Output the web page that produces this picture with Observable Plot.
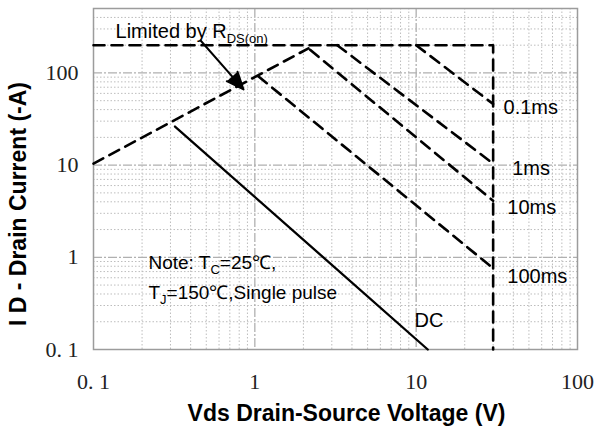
<!DOCTYPE html>
<html><head><meta charset="utf-8">
<script src="https://cdn.jsdelivr.net/npm/d3@7"></script>
<script src="https://cdn.jsdelivr.net/npm/@observablehq/plot@0.6"></script>
<style>
html,body{margin:0;padding:0;background:#fff;}
#chart svg{display:block;}
g[aria-label="x-axis tick label"], g[aria-label="y-axis tick label"]{font-family:"Liberation Serif","Times New Roman",serif;font-size:22px;fill:#222;}
</style></head><body><div id="chart"></div>
<script>
// ---- axis ticks ----
const xTicks = [0.1, 1, 10, 100];
const xTickLabels = ["0. 1", "1", "10", "100"];
const yTicks = [0.1, 1, 10, 100];
const yTickLabels = ["0. 1", "1", "10", "100"];

// ---- SOA boundary series (Vds [V], Id [A]) ----
const rdsV = [0.1, 2.15],  rdsI = [10.4, 185];
const boundV = [0.1, 30, 30], boundI = [200, 200, 0.1];
const ms01V = [10, 30],    ms01I = [200, 46];
const ms1V = [3.24, 30],   ms1I = [200, 10.4];
const ms10V = [2.2, 30],   ms10I = [178, 4.1];
const ms100V = [1.05, 30], ms100I = [92, 0.76];
const dcV = [0.32, 11.8],  dcI = [26.2, 0.1];

// ---- curve labels ----
const curveLabels = ["0.1ms", "1ms", "10ms", "100ms", "DC"];
const curveLabelV = [34.8, 39.4, 36.7, 36.7, 9.77];
const curveLabelI = [42.2, 9.2, 3.5, 0.62, 0.207];

// ---- notes ----
const notes = ["Limited by R_{DS(on)}", "Note: T_{C}=25℃,", "T_{J}=150℃,Single pulse"];
const noteV = [0.137, 0.219, 0.219];
const noteI = [282, 0.879, 0.415];

// ---- arrow ----
const arrowV = [0.461, 0.851];
const arrowI = [225, 66.2];

// ---- build tables ----
function seg(name, V, I) { return V.map((v, k) => ({s: name, v, i: I[k]})); }
const dashed = [
  ...seg("RDS(on)", rdsV, rdsI),
  ...seg("Limit", boundV, boundI),
  ...seg("0.1ms", ms01V, ms01I),
  ...seg("1ms", ms1V, ms1I),
  ...seg("10ms", ms10V, ms10I),
  ...seg("100ms", ms100V, ms100I)
];
const solid = seg("DC", dcV, dcI);
const curveTable = curveLabels.map((t, k) => ({t, v: curveLabelV[k], i: curveLabelI[k]}));
const noteTable = notes.map((t, k) => ({t, v: noteV[k], i: noteI[k], fs: k === 0 ? 20 : 19}));
const arrowTable = [{v1: arrowV[0], i1: arrowI[0], v2: arrowV[1], i2: arrowI[1]}];

// grid values
const xMajor = [1, 10];
const yMajor = [1, 10, 100];
const xMinor = [], yMinor = [];
for (const d of [0.1, 1, 10]) for (let m = 2; m <= 9; m++) xMinor.push(+(d * m).toPrecision(3));
for (const d of [0.1, 1, 10, 100]) for (let m = 2; m <= 9; m++) { const val = +(d * m).toPrecision(3); if (val <= 500) yMinor.push(val); }

const sans = "'Liberation Sans', Arial, Helvetica, sans-serif";

const plot = Plot.plot({
  width: 595,
  height: 434,
  marginLeft: 93,
  marginRight: 18,
  marginTop: 8,
  marginBottom: 85,
  style: {fontFamily: sans, background: "white", color: "black"},
  x: {type: "log", domain: [0.1, 100], label: null},
  y: {type: "log", domain: [0.1, 500], label: null},
  marks: [
    Plot.ruleX(xMinor, {stroke: "#bdbdbd", strokeWidth: 1, strokeDasharray: "1.5,2"}),
    Plot.ruleY(yMinor, {stroke: "#bdbdbd", strokeWidth: 1, strokeDasharray: "1.5,2"}),
    Plot.ruleX(xMajor, {stroke: "#b0b0b0", strokeWidth: 1.3, strokeDasharray: "9,2,2,2"}),
    Plot.ruleY(yMajor, {stroke: "#b0b0b0", strokeWidth: 1.3, strokeDasharray: "9,2,2,2"}),
    Plot.frame({stroke: "#9c9c9c", strokeWidth: 1.5}),
    Plot.line(dashed, {x: "v", y: "i", z: "s", stroke: "black", strokeWidth: 2.6, strokeDasharray: "11,7"}),
    Plot.line(solid, {x: "v", y: "i", stroke: "black", strokeWidth: 2.3}),
    Plot.arrow(arrowTable, {x1: "v1", y1: "i1", x2: "v2", y2: "i2", stroke: "black", strokeWidth: 2, headLength: 14, headAngle: 45}),
    Plot.text(curveTable, {x: "v", y: "i", text: "t", textAnchor: "start", lineAnchor: "middle", fontSize: 20, fill: "black"}),
    Plot.text(noteTable, {x: "v", y: "i", text: "t", textAnchor: "start", lineAnchor: "middle", fontSize: "fs", fill: "black"}),
    Plot.axisX(xTicks, {tickSize: 0, tickPadding: 24, tickFormat: d => xTickLabels[xTicks.indexOf(d)], label: null}),
    Plot.axisY(yTicks, {tickSize: 0, tickPadding: 15, tickFormat: d => yTickLabels[yTicks.indexOf(d)], label: null}),
    Plot.text(["Vds Drain-Source Voltage (V)"], {frameAnchor: "bottom", textAnchor: "middle", lineAnchor: "middle", dx: 11, dy: 64, fontSize: 23, fontWeight: "bold", fill: "black"}),
    Plot.text(["I D - Drain Current (-A)"], {frameAnchor: "left", textAnchor: "middle", lineAnchor: "middle", rotate: -90, dx: -75, dy: 25, fontSize: 23, fontWeight: "bold", fill: "black"})
  ]
});

// filled arrowhead
d3.select(plot).selectAll('g[aria-label="arrow"] path').attr("fill", "black").attr("stroke-linejoin", "miter");

// subscripts
d3.select(plot).selectAll("text").each(function () {
  const t = d3.select(this);
  const s = t.text();
  if (!s.includes("_{")) return;
  t.text("");
  const parts = s.split(/(_\{[^}]*\})/);
  let shifted = false;
  for (const p of parts) {
    if (!p) continue;
    if (p.startsWith("_{")) {
      t.append("tspan").attr("font-size", "13px").attr("dy", "5").text(p.slice(2, -1));
      shifted = true;
    } else {
      const ts = t.append("tspan").text(p);
      if (shifted) { ts.attr("dy", "-5"); shifted = false; }
    }
  }
});

document.getElementById("chart").appendChild(plot);
</script></body></html>
